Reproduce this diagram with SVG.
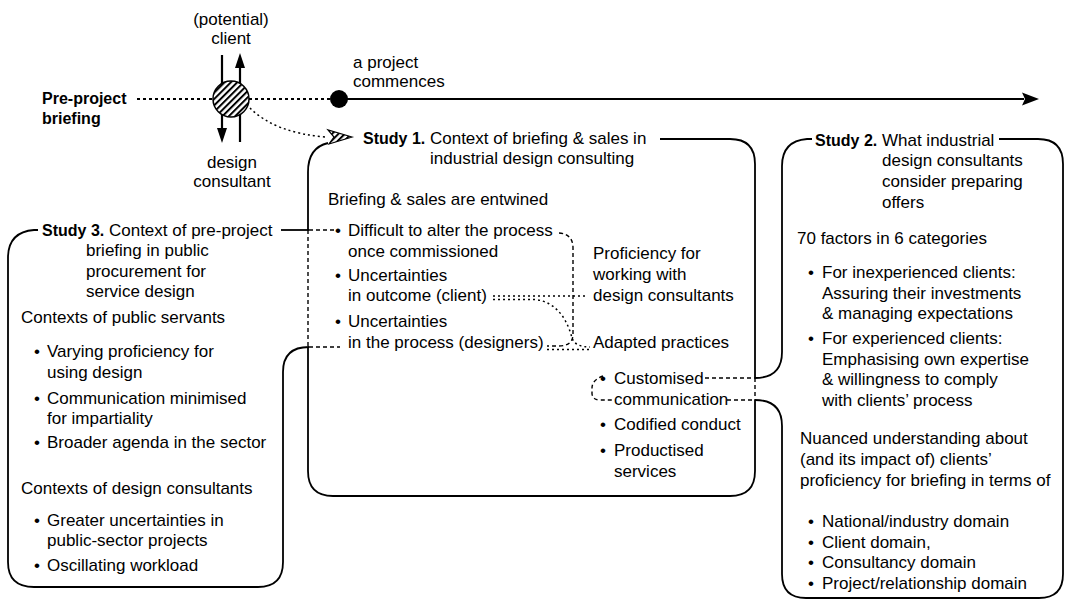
<svg xmlns="http://www.w3.org/2000/svg" width="1070" height="601" viewBox="0 0 1070 601">
  <defs>
    <style>
      text { font-family: "Liberation Sans", Arial, sans-serif; font-size: 17px; fill: #000; }
      .b { font-weight: bold; font-size: 16px; }
      .mid { text-anchor: middle; }
      .box { fill: none; stroke: #000; stroke-width: 1.8; }
      .dash { fill: none; stroke: #000; stroke-width: 1.4; stroke-dasharray: 4 3; }
      .dot { fill: none; stroke: #000; stroke-width: 1.5; stroke-dasharray: 2 3; }
      .tl { fill: none; stroke: #000; stroke-width: 2.2; stroke-dasharray: 3 3; }
      .solid { fill: none; stroke: #000; stroke-width: 2.2; }
    </style>
    <pattern id="hatch" patternUnits="userSpaceOnUse" width="4.5" height="10" patternTransform="rotate(45)">
      <rect x="0" y="0" width="4.5" height="10" fill="#fff"/>
      <rect x="0" y="0" width="2" height="10" fill="#000"/>
    </pattern>
  </defs>

  <!-- timeline -->
  <g id="timeline">
    <text x="42" y="104" class="b">Pre-project</text>
    <text x="42" y="124" class="b">briefing</text>
    <path class="tl" d="M137 99 H213"/>
    <path class="tl" d="M249 99 H330"/>
    <path class="solid" d="M339 99 H1024"/>
    <path d="M1039 99 L1022 92.5 L1025 99 L1022 105.5 Z" fill="#000"/>
    <circle cx="339" cy="99" r="9" fill="#000"/>
    <text x="353" y="68">a project</text>
    <text x="353" y="87">commences</text>
  </g>

  <!-- briefing parties -->
  <g id="parties">
    <text x="231" y="25" class="mid">(potential)</text>
    <text x="231" y="44" class="mid">client</text>
    <path class="solid" d="M222 55 V130"/>
    <path d="M222 143 L217 128 L227 128 Z" fill="#000"/>
    <path class="solid" d="M240 142 V66"/>
    <path d="M240 53 L235 68 L245 68 Z" fill="#000"/>
    <circle cx="231" cy="99" r="18" fill="url(#hatch)" stroke="#000" stroke-width="1.5"/>
    <text x="232" y="168" class="mid">design</text>
    <text x="232" y="187" class="mid">consultant</text>
  </g>

  <!-- connectors -->
  <g id="connectors">
    <path class="dot" d="M250 108 Q275 133 326 137"/>
    <path d="M352 137 L328 130 L334 137 L329 144 Z" fill="url(#hatch)" stroke="#000" stroke-width="1.2"/>
    <!-- Study 3 to Study 1 links -->
    <path class="dash" d="M308 230 V347"/>
    <path class="dash" d="M309 230 H334"/>
    <path class="dash" d="M309 347 H340"/>
    <!-- inside Study 1 -->
    <path class="dash" d="M559 233 Q573 234 573 248 V334 Q573 346 559 346 H547"/>
    <path class="dot" d="M493 296 H588"/>
    <path class="dot" d="M493 299.5 H535 C558 302 568 322 572 338 Q575 347 590 347"/>
    <path class="dot" d="M547 349.5 H590"/>
    <path class="dash" d="M603 376 Q592 380 592 388 V394 Q593 400 600 400 H612"/>
    <!-- Study 1 to Study 2 links -->
    <path class="dash" d="M705 378 H755"/>
    <path class="dash" d="M727 400 H755"/>
    <path class="dash" d="M755 378 V400"/>
  </g>

  <!-- Study 1 -->
  <g id="study1">
    <path class="box" d="M328 143 C315 146 308 155 308 172 V230"/>
    <path class="box" d="M308 347 V471 Q308 496 333 496 H730 Q755 496 755 471 V400"/>
    <path class="box" d="M755 378 V164 Q755 139 730 139 H660"/>
    <text x="363" y="144"><tspan class="b">Study 1.</tspan> Context of briefing &amp; sales in</text>
    <text x="430" y="164">industrial design consulting</text>
    <text x="328" y="205">Briefing &amp; sales are entwined</text>
    <text x="335" y="236">•</text>
    <text x="348" y="236">Difficult to alter the process</text>
    <text x="348" y="257">once commissioned</text>
    <text x="335" y="281">•</text>
    <text x="348" y="281">Uncertainties</text>
    <text x="348" y="301">in outcome (client)</text>
    <text x="335" y="327">•</text>
    <text x="348" y="327">Uncertainties</text>
    <text x="348" y="348">in the process (designers)</text>
    <text x="593" y="259">Proficiency for</text>
    <text x="593" y="280">working with</text>
    <text x="593" y="301">design consultants</text>
    <text x="593" y="348">Adapted practices</text>
    <text x="600" y="384">•</text>
    <text x="614" y="384">Customised</text>
    <text x="614" y="405">communication</text>
    <text x="600" y="430">•</text>
    <text x="614" y="430">Codified conduct</text>
    <text x="600" y="456">•</text>
    <text x="614" y="456">Productised</text>
    <text x="614" y="477">services</text>
  </g>

  <!-- Study 2 -->
  <g id="study2">
    <path class="box" d="M812 139 H807 Q782 141 782 166 V352 Q782 378 755 378"/>
    <path class="box" d="M755 400 Q782 400 782 426 V574 Q782 598 806 598 H1039 Q1063 598 1063 574 V164 Q1063 139 1038 139 H999"/>
    <text x="815" y="146"><tspan class="b">Study 2.</tspan> What industrial</text>
    <text x="882" y="166">design consultants</text>
    <text x="882" y="187">consider preparing</text>
    <text x="882" y="208">offers</text>
    <text x="797" y="244">70 factors in 6 categories</text>
    <text x="808" y="278">•</text>
    <text x="822" y="278">For inexperienced clients:</text>
    <text x="822" y="299">Assuring their investments</text>
    <text x="822" y="319">&amp; managing expectations</text>
    <text x="808" y="344">•</text>
    <text x="822" y="344">For experienced clients:</text>
    <text x="822" y="365">Emphasising own expertise</text>
    <text x="822" y="385">&amp; willingness to comply</text>
    <text x="822" y="406">with clients’ process</text>
    <text x="800" y="444">Nuanced understanding about</text>
    <text x="800" y="465">(and its impact of) clients’</text>
    <text x="800" y="486">proficiency for briefing in terms of</text>
    <text x="808" y="527">•</text>
    <text x="822" y="527">National/industry domain</text>
    <text x="808" y="548">•</text>
    <text x="822" y="548">Client domain,</text>
    <text x="808" y="568">•</text>
    <text x="822" y="568">Consultancy domain</text>
    <text x="808" y="589">•</text>
    <text x="822" y="589">Project/relationship domain</text>
  </g>

  <!-- Study 3 -->
  <g id="study3">
    <path class="box" d="M38 230 H34 Q8 232 8 258 V562 Q8 587 34 587 H258 Q283 587 283 562 V372 Q283 347 309 347"/>
    <path class="box" d="M281 230 H309"/>
    <text x="42" y="236"><tspan class="b">Study 3.</tspan> Context of pre-project</text>
    <text x="86" y="256">briefing in public</text>
    <text x="86" y="277">procurement for</text>
    <text x="86" y="297">service design</text>
    <text x="21" y="323">Contexts of public servants</text>
    <text x="34" y="357">•</text>
    <text x="47" y="357">Varying proficiency for</text>
    <text x="47" y="378">using design</text>
    <text x="34" y="404">•</text>
    <text x="47" y="404">Communication minimised</text>
    <text x="47" y="424">for impartiality</text>
    <text x="34" y="448">•</text>
    <text x="47" y="448">Broader agenda in the sector</text>
    <text x="21" y="494">Contexts of design consultants</text>
    <text x="34" y="526">•</text>
    <text x="47" y="526">Greater uncertainties in</text>
    <text x="47" y="546">public-sector projects</text>
    <text x="34" y="571">•</text>
    <text x="47" y="571">Oscillating workload</text>
  </g>
</svg>
